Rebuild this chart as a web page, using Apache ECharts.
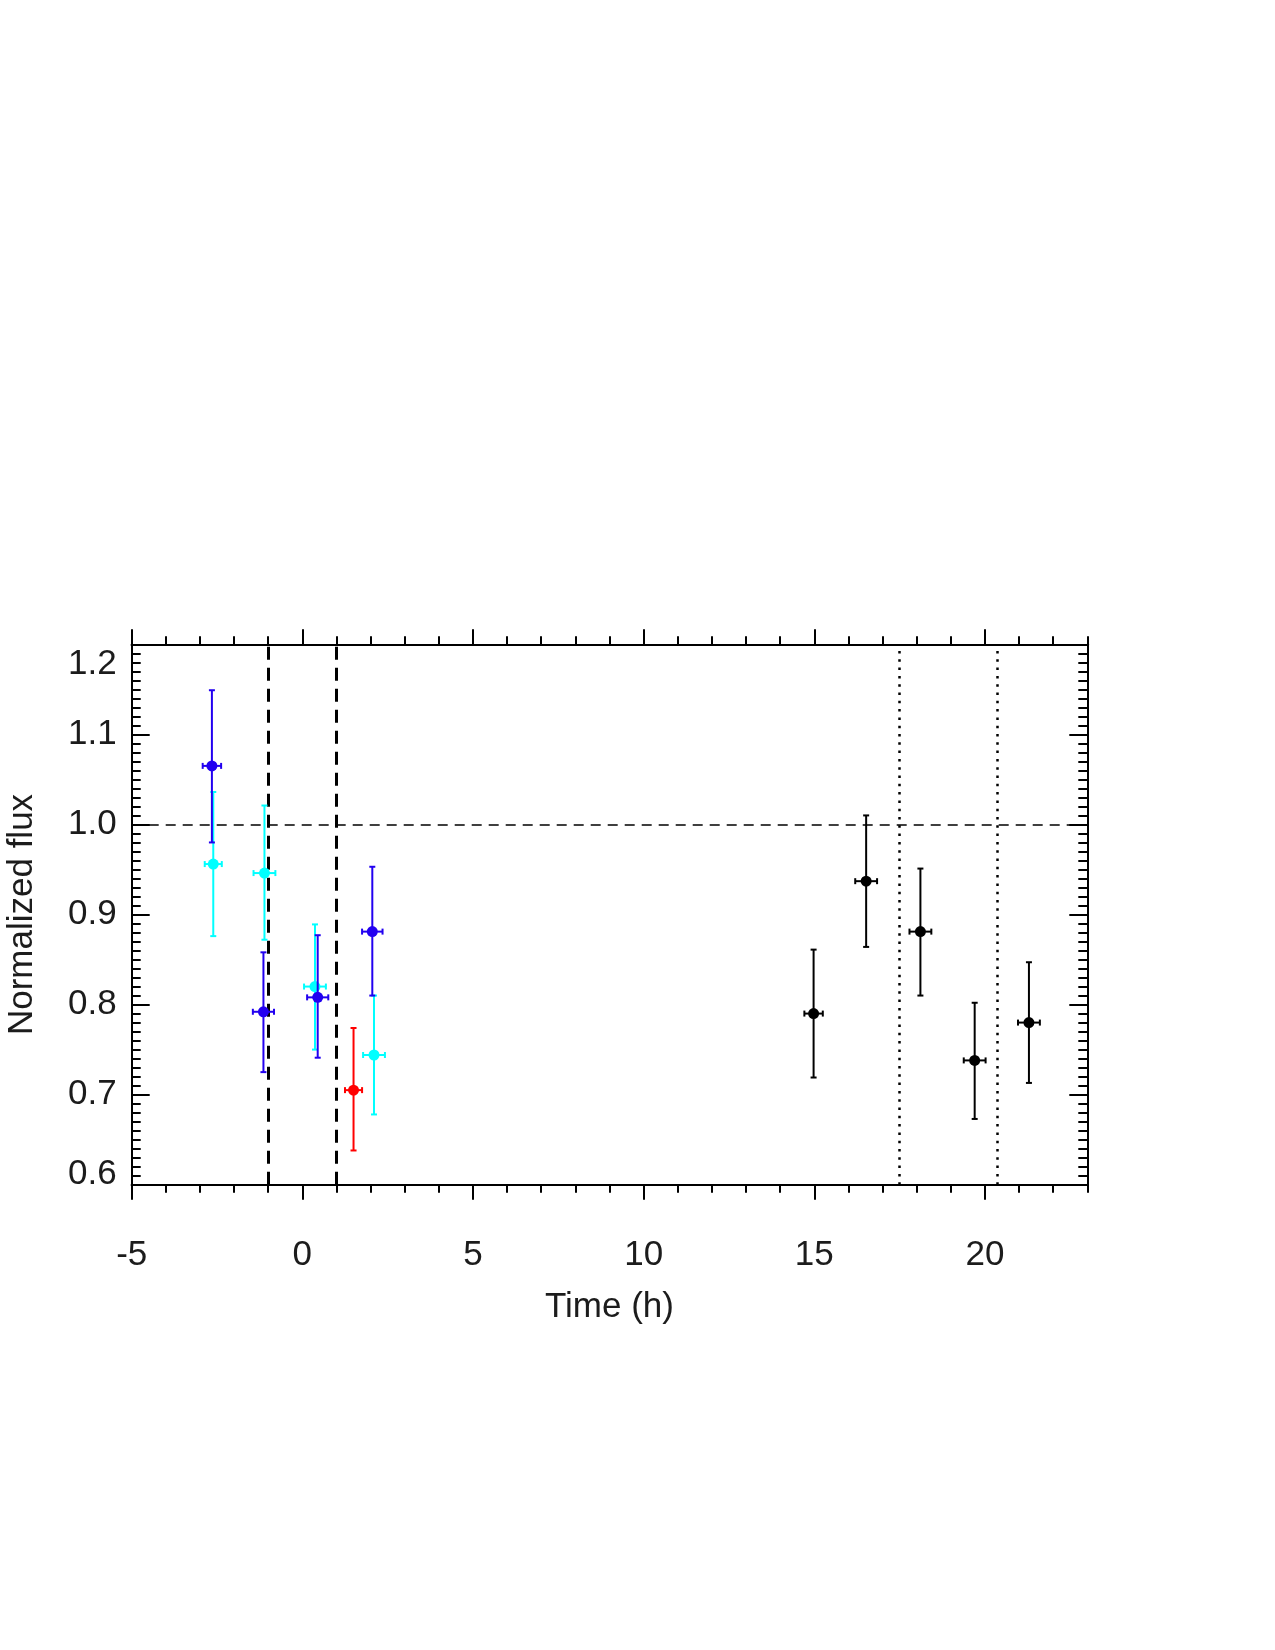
<!DOCTYPE html>
<html>
<head>
<meta charset="utf-8">
<script src="https://cdn.jsdelivr.net/npm/echarts@6/dist/echarts.min.js"></script>
<style>html,body{margin:0;padding:0;background:#fff;}#chart{width:1275px;height:1650px;}</style>
</head>
<body>
<div id="chart"></div>
<script>
// ---- data (time in hours, normalized flux) ----
var blueTime    = [-2.65, -1.14, 0.45, 2.05];
var blueFlux    = [1.065, 0.792, 0.808, 0.881];
var blueLow     = [0.980, 0.725, 0.741, 0.810];
var blueHigh    = [1.149, 0.858, 0.877, 0.953];
var blueTimeErr = [0.27, 0.31, 0.31, 0.30];

var cyanTime    = [-2.61, -1.11, 0.37, 2.10];
var cyanFlux    = [0.956, 0.946, 0.820, 0.744];
var cyanLow     = [0.876, 0.872, 0.750, 0.678];
var cyanHigh    = [1.036, 1.021, 0.889, 0.810];
var cyanTimeErr = [0.25, 0.32, 0.32, 0.32];

var redTime     = [1.50];
var redFlux     = [0.705];
var redLow      = [0.638];
var redHigh     = [0.774];
var redTimeErr  = [0.25];

var blackTime    = [14.98, 16.52, 18.11, 19.70, 21.29];
var blackFlux    = [0.790, 0.937, 0.881, 0.738, 0.780];
var blackLow     = [0.719, 0.864, 0.810, 0.673, 0.713];
var blackHigh    = [0.861, 1.010, 0.951, 0.802, 0.847];
var blackTimeErr = [0.27, 0.32, 0.32, 0.32, 0.32];

var dashedTimes = [-1, 1];
var dottedTimes = [17.5, 20.35];
var referenceFlux = [1.0];

var xMajorTicks = [-5, 0, 5, 10, 15, 20];
var xLabels = ['-5', '0', '5', '10', '15', '20'];

var FONT = 'Liberation Sans';
var TXT = '#1c1c1c';
var FS = 35;

function rows(t, f, lo, hi, te) {
  return t.map(function (v, i) { return [v, f[i], lo[i], hi[i], te[i]]; });
}

function renderErr(params, api) {
  var t = api.value(0), f = api.value(1), lo = api.value(2), hi = api.value(3), te = api.value(4);
  var c = api.coord([t, f]);
  var pLo = api.coord([t, lo]);
  var pHi = api.coord([t, hi]);
  var pL = api.coord([t - te, f]);
  var pR = api.coord([t + te, f]);
  var color = api.visual('color');
  var ls = { stroke: color, lineWidth: 2 };
  var cap = 3;
  return {
    type: 'group',
    children: [
      { type: 'line', shape: { x1: pLo[0], y1: pLo[1], x2: pHi[0], y2: pHi[1] }, style: ls },
      { type: 'line', shape: { x1: pLo[0] - cap, y1: pLo[1], x2: pLo[0] + cap, y2: pLo[1] }, style: ls },
      { type: 'line', shape: { x1: pHi[0] - cap, y1: pHi[1], x2: pHi[0] + cap, y2: pHi[1] }, style: ls },
      { type: 'line', shape: { x1: pL[0], y1: pL[1], x2: pR[0], y2: pR[1] }, style: ls },
      { type: 'line', shape: { x1: pL[0], y1: pL[1] - cap, x2: pL[0], y2: pL[1] + cap }, style: ls },
      { type: 'line', shape: { x1: pR[0], y1: pR[1] - cap, x2: pR[0], y2: pR[1] + cap }, style: ls },
      { type: 'circle', shape: { cx: c[0], cy: c[1], r: 5.5 }, style: { fill: color } }
    ]
  };
}

function errSeries(name, color, data) {
  return {
    name: name, type: 'custom', renderItem: renderErr,
    xAxisIndex: 0, yAxisIndex: 0,
    itemStyle: { color: color },
    encode: { x: [0, 4], y: [1, 2, 3] },
    data: data, silent: true, z: 5
  };
}

var baseX = { type: 'value', min: -5, max: 23, splitLine: { show: false },
  axisLine: { show: true, onZero: false, lineStyle: { color: '#000', width: 2 } } };

function xAxisDef(pos, major) {
  var a = JSON.parse(JSON.stringify(baseX));
  a.position = pos;
  if (major) {
    a.interval = 5;
    a.axisTick = { show: true, inside: false, length: 15, lineStyle: { color: '#000', width: 2 }, customValues: xMajorTicks };
    if (pos === 'bottom') {
      a.axisLabel = { show: true, margin: 53, fontSize: FS, fontFamily: FONT, color: TXT, customValues: xMajorTicks,
        formatter: function (v) { var i = xMajorTicks.indexOf(v); return i >= 0 ? xLabels[i] : ''; } };
      a.name = 'Time (h)';
      a.nameLocation = 'middle';
      a.nameGap = 105;
      a.nameTextStyle = { fontSize: FS, fontFamily: FONT, color: TXT };
    } else {
      a.axisLabel = { show: false };
    }
  } else {
    a.interval = 1;
    a.axisTick = { show: true, inside: false, length: 8, lineStyle: { color: '#000', width: 2 } };
    a.axisLabel = { show: false };
  }
  return a;
}

function yAxisDef(pos) {
  var a = {
    type: 'value', position: pos, min: 0.6, max: 1.2, interval: 0.1,
    splitLine: { show: false },
    axisLine: { show: true, onZero: false, lineStyle: { color: '#000', width: 2 } },
    axisTick: { show: true, inside: true, length: 18, lineStyle: { color: '#000', width: 2 } },
    minorTick: { show: true, splitNumber: 10, length: 9, lineStyle: { color: '#000', width: 2 } },
    axisLabel: { show: false }
  };
  if (pos === 'left') {
    a.axisLabel = {
      show: true, margin: 15, fontSize: FS, fontFamily: FONT, color: TXT,
      formatter: function (v) {
        var s = v.toFixed(1);
        if (Math.abs(v - 1.2) < 1e-6) return '{t|' + s + '}';
        if (Math.abs(v - 0.6) < 1e-6) return '{b|' + s + '}';
        return s;
      },
      rich: {
        t: { fontSize: FS, fontFamily: FONT, color: TXT, padding: [40, 0, 0, 0] },
        b: { fontSize: FS, fontFamily: FONT, color: TXT, padding: [0, 0, 20, 0] }
      }
    };
    a.name = 'Normalized flux';
    a.nameLocation = 'middle';
    a.nameGap = 92;
    a.nameTextStyle = { fontSize: FS, fontFamily: FONT, color: TXT };
  }
  return a;
}

var markLineData = [];
dashedTimes.forEach(function (t) {
  markLineData.push({ xAxis: t, lineStyle: { color: '#000', width: 3, type: [13, 8] } });
});
dottedTimes.forEach(function (t) {
  markLineData.push({ xAxis: t, lineStyle: { color: '#000', width: 2.5, type: [2.5, 5.8] } });
});
referenceFlux.forEach(function (v) {
  markLineData.push({ yAxis: v, lineStyle: { color: '#000', width: 1.5, type: [10, 7] } });
});

var option = {
  backgroundColor: '#fff',
  animation: false,
  grid: { left: 131.7, right: 187.7, top: 644.3, bottom: 465.3, containLabel: false, outerBoundsMode: 'none' },
  xAxis: [xAxisDef('bottom', true), xAxisDef('bottom', false), xAxisDef('top', true), xAxisDef('top', false)],
  yAxis: [yAxisDef('left'), yAxisDef('right')],
  series: [
    {
      type: 'line', data: [], silent: true, xAxisIndex: 0, yAxisIndex: 0,
      markLine: { silent: true, symbol: ['none', 'none'], label: { show: false }, animation: false, data: markLineData }
    },
    errSeries('cyan', '#00ffff', rows(cyanTime, cyanFlux, cyanLow, cyanHigh, cyanTimeErr)),
    errSeries('blue', '#2200f0', rows(blueTime, blueFlux, blueLow, blueHigh, blueTimeErr)),
    errSeries('red', '#ff0000', rows(redTime, redFlux, redLow, redHigh, redTimeErr)),
    errSeries('black', '#000000', rows(blackTime, blackFlux, blackLow, blackHigh, blackTimeErr))
  ]
};

var chart = echarts.init(document.getElementById('chart'), null, { renderer: 'canvas', width: 1275, height: 1650 });
chart.setOption(option);
</script>
</body>
</html>
